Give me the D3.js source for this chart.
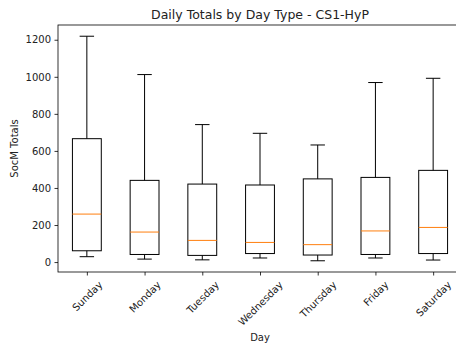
<!DOCTYPE html>
<html>
<head>
<meta charset="utf-8">
<script src="https://cdn.jsdelivr.net/npm/d3@7"></script>
<style>
  body { margin: 0; background: #fff; }
  svg { display: block; font-family: "DejaVu Sans", sans-serif; }
</style>
</head>
<body>
<div id="chart"></div>
<script>
// box stats
var days = ["Sunday", "Monday", "Tuesday", "Wednesday", "Thursday", "Friday", "Saturday"];
var whiskerLow = [29, 16, 12, 22, 7, 22, 11];
var q1 = [61, 41, 36, 46, 38, 41, 46];
var median = [259, 162, 117, 106, 94, 168, 187];
var q3 = [666, 441, 421, 416, 449, 457, 495];
var whiskerHigh = [1219, 1012, 742, 695, 632, 969, 992];
var yTicks = [0, 200, 400, 600, 800, 1000, 1200];

var width = 456, height = 347;
var margin = { top: 25, right: -6, bottom: 75, left: 58 };

var data = days.map((d, i) => ({
    day: d, pos: i + 1,
    lo: whiskerLow[i], q1: q1[i], med: median[i], q3: q3[i], hi: whiskerHigh[i]
}))

var svg = d3.select("#chart").append("svg")
    .attr("width", width)
    .attr("height", height);

// matplotlib style 5% margins
var lo = d3.min(whiskerLow), hi = d3.max(whiskerHigh)
var pad = (hi - lo) * 0.05
var y = d3.scaleLinear()
    .domain([lo - pad, hi + pad])
    .range([height - margin.bottom, margin.top])
var x = d3.scaleLinear()
    .domain([0.5, days.length + 0.5])
    .range([margin.left, width - margin.right])

var boxW = x(1.25) - x(1)   // half of 0.5 width
var capW = x(1.125) - x(1)

var boxes = svg.append("g")
    .selectAll("g")
    .data(data)
    .enter().append("g")
    .attr("class", "box")

boxes.append("line")
    .attr("x1", d => x(d.pos)).attr("x2", d => x(d.pos))
    .attr("y1", d => y(d.q3)).attr("y2", d => y(d.hi))
    .attr("stroke", "#000").attr("stroke-width", 1)
boxes.append("line")
    .attr("x1", d => x(d.pos)).attr("x2", d => x(d.pos))
    .attr("y1", d => y(d.q1)).attr("y2", d => y(d.lo))
    .attr("stroke", "#000").attr("stroke-width", 1)
boxes.append("line")
    .attr("x1", d => x(d.pos) - capW).attr("x2", d => x(d.pos) + capW)
    .attr("y1", d => y(d.hi)).attr("y2", d => y(d.hi))
    .attr("stroke", "#000").attr("stroke-width", 1)
boxes.append("line")
    .attr("x1", d => x(d.pos) - capW).attr("x2", d => x(d.pos) + capW)
    .attr("y1", d => y(d.lo)).attr("y2", d => y(d.lo))
    .attr("stroke", "#000").attr("stroke-width", 1)
boxes.append("rect")
    .attr("x", d => x(d.pos) - boxW)
    .attr("y", d => y(d.q3))
    .attr("width", boxW * 2)
    .attr("height", d => y(d.q1) - y(d.q3))
    .attr("fill", "none")
    .attr("stroke", "#000").attr("stroke-width", 1)
boxes.append("line")
    .attr("x1", d => x(d.pos) - boxW).attr("x2", d => x(d.pos) + boxW)
    .attr("y1", d => y(d.med)).attr("y2", d => y(d.med))
    .attr("stroke", "#ff7f0e").attr("stroke-width", 1)

// axes
var yAxis = g => g
    .attr("transform", `translate(${margin.left},0)`)
    .call(d3.axisLeft(y).tickValues(yTicks).tickFormat(d3.format("d"))
        .tickSize(3.5).tickPadding(3.5).tickSizeOuter(0))
    .attr("font-family", null).attr("font-size", null)
    .call(g => g.select(".domain").remove())
    .call(g => g.selectAll(".tick line").attr("stroke-width", 0.8))
    .call(g => g.selectAll("text").style("font-size", "10px").attr("fill", "#222"))

var xAxis = g => g
    .attr("transform", `translate(0,${height - margin.bottom})`)
    .call(d3.axisBottom(x).tickValues(data.map(d => d.pos)).tickFormat(v => days[v - 1])
        .tickSize(3.5).tickSizeOuter(0))
    .attr("font-family", null).attr("font-size", null)
    .call(g => g.select(".domain").remove())
    .call(g => g.selectAll(".tick line").attr("stroke-width", 0.8))
    .call(g => g.selectAll("text")
        .style("font-size", "10px")
        .attr("fill", "#222")
        .attr("y", 0).attr("dy", null)
        .attr("dominant-baseline", "central")
        .attr("text-anchor", "middle")
        .attr("transform", function () {
            var len = this.getComputedTextLength()
            var h = (len + 11) * Math.SQRT1_2
            return `translate(0,${7 + h / 2}) rotate(-45)`
        }))

svg.append("g").call(yAxis)
svg.append("g").call(xAxis)

// spines
var x0 = margin.left, x1 = width - margin.right, y0 = margin.top, y1 = height - margin.bottom
svg.append("rect")
    .attr("x", x0).attr("y", y0)
    .attr("width", x1 - x0).attr("height", y1 - y0)
    .attr("fill", "none").attr("stroke", "#000").attr("stroke-width", 0.8)

// labels
svg.append("text")
    .attr("x", (x0 + x1) / 2).attr("y", 18.5)
    .attr("text-anchor", "middle")
    .style("font-size", "12.5px")
    .attr("fill", "#222")
    .text("Daily Totals by Day Type - CS1-HyP")

svg.append("text")
    .attr("x", (x0 + x1) / 2).attr("y", 341)
    .attr("text-anchor", "middle")
    .style("font-size", "10px")
    .attr("fill", "#222")
    .text("Day")

svg.append("text")
    .attr("transform", `translate(18,${(y0 + y1) / 2}) rotate(-90)`)
    .attr("text-anchor", "middle")
    .style("font-size", "10px")
    .attr("fill", "#222")
    .text("SocM Totals")
</script>
</body>
</html>
